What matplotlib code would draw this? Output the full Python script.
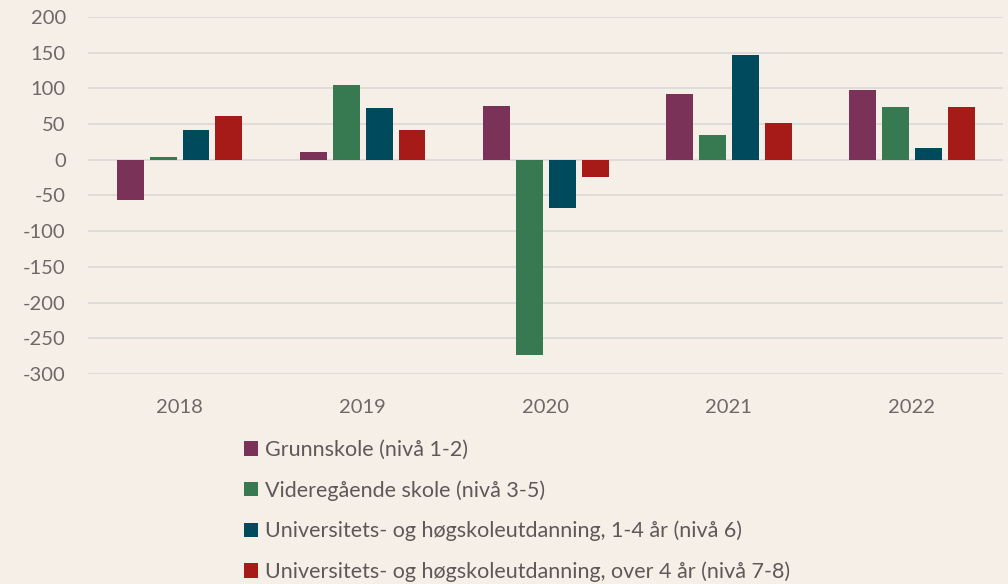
import matplotlib
matplotlib.use("Agg")
import matplotlib.pyplot as plt
import numpy as np

# ── Data ──────────────────────────────────────────────────────────────────────
years = ["2018", "2019", "2020", "2021", "2022"]
series_names = [
    "Grunnskole (nivå 1-2)",
    "Videregående skole (nivå 3-5)",
    "Universitets- og høgskoleutdanning, 1-4 år (nivå 6)",
    "Universitets- og høgskoleutdanning, over 4 år (nivå 7-8)",
]
grunnskole = [-56, 11, 76, 92, 98]
videregaende = [4, 105, -273, 35, 74]
univ_1_4 = [42, 73, -67, 147, 17]
univ_over_4 = [62, 42, -24, 52, 74]

# ── Style ─────────────────────────────────────────────────────────────────────
BG = "#F6EFE8"
COLORS = ["#7A3259", "#377A52", "#004A5E", "#A61A17"]
GRID = "#DDD9D7"
TICK_COLOR = "#6F6868"
LEGEND_COLOR = "#5F5858"

plt.rcParams["font.family"] = ["Lato", "DejaVu Sans"]
plt.rcParams["axes.unicode_minus"] = False

fig = plt.figure(figsize=(10.08, 5.84), dpi=100, facecolor=BG)
ax = fig.add_axes([0.0873, 0.3596, 0.908, 0.6113], facecolor=BG)

x = np.arange(len(years))
bar_w = 0.147
step = 0.18
all_series = [grunnskole, videregaende, univ_1_4, univ_over_4]
handles = []
for i, (vals, name, col) in enumerate(zip(all_series, series_names, COLORS)):
    offset = (i - 1.5) * step
    h = ax.bar(x + offset, vals, width=bar_w, color=col, label=name, zorder=3)
    handles.append(h)

ax.set_xlim(-0.5, len(years) - 0.5)
ax.set_ylim(-300, 200)
ax.set_yticks(np.arange(-300, 201, 50))
ax.set_xticks(x)
ax.set_xticklabels(years)
ax.yaxis.grid(True, color=GRID, linewidth=1.3, zorder=0)
ax.set_axisbelow(True)
for s in ax.spines.values():
    s.set_visible(False)
ax.tick_params(axis="both", length=0, labelsize=14.5, colors=TICK_COLOR)
ax.tick_params(axis="y", pad=16)
ax.tick_params(axis="x", pad=18)

leg = fig.legend(handles=handles, labels=series_names, loc="upper left",
                 bbox_to_anchor=(0.234, 0.261), frameon=False, fontsize=15.5,
                 handlelength=0.65, handleheight=0.65, handletextpad=0.3,
                 labelspacing=0.93, borderaxespad=0)
for t in leg.get_texts():
    t.set_color(LEGEND_COLOR)

fig.savefig("out.png", dpi=100, facecolor=BG)
